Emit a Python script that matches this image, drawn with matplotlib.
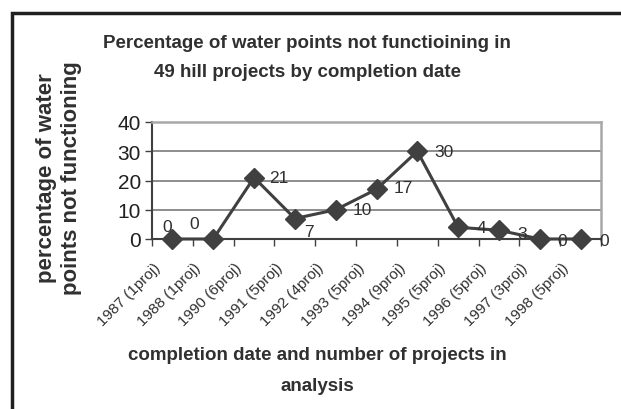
import matplotlib.pyplot as plt
import numpy as np
from matplotlib.patches import Rectangle

plt.rcParams['font.family'] = ['Liberation Sans', 'DejaVu Sans']

categories = ['1987 (1proj)', '1988 (1proj)', '1990 (6proj)', '1991 (5proj)',
              '1992 (4proj)', '1993 (5proj)', '1994 (9proj)', '1995 (5proj)',
              '1996 (5proj)', '1997 (3proj)', '1998 (5proj)']
pct_not_working = [0, 0, 21, 7, 10, 17, 30, 4, 3, 0, 0]

# label offsets in points (Excel had a couple of them nudged by hand)
label_offsets = [(-4, 9), (-14, 11), (18, 0), (10, -9), (19, 0), (19, 1),
                 (19, 0), (17, 0), (17, -2), (16, -1), (17, -1)]

dark = '#404040'

fig = plt.figure(figsize=(6.21, 4.10), dpi=100)
ax = fig.add_axes([152 / 621, 1 - 240 / 410, 449 / 621, 117 / 410])

x = np.arange(len(categories)) + 0.5
ax.plot(x, pct_not_working, color=dark, lw=2.2, marker='D', ms=10,
        mfc=dark, mec=dark, clip_on=False, zorder=3)

for xi, v, off in zip(x, pct_not_working, label_offsets):
    ax.annotate(str(v), (xi, v), xytext=off, textcoords='offset points',
                ha='center', va='center', fontsize=12.5, color='#303030')

ax.set_xlim(0, len(categories))
ax.set_ylim(0, 40)
ax.set_yticks(np.arange(0, 41, 10))
ax.tick_params(axis='y', labelsize=15, length=5, width=1, color=dark,
               labelcolor='#202020', pad=3)
ax.set_xticks(np.arange(len(categories) + 1))
ax.set_xticklabels([])
ax.tick_params(axis='x', which='major', length=5, width=1, color=dark)

# category labels, Excel style: slanted and sitting left of the centre
for xi, cat in zip(x, categories):
    ax.annotate(cat, (xi, 0), xycoords=('data', 'axes fraction'),
                xytext=(-14, -15), textcoords='offset points',
                rotation=45, ha='right', va='top', rotation_mode='anchor',
                fontsize=11, color='#303030', annotation_clip=False)

ax.grid(axis='y', color='#7a7a7a', lw=1.2)
ax.set_axisbelow(True)
for side in ['top', 'right']:
    ax.spines[side].set_color('#a8a8a8')
    ax.spines[side].set_linewidth(1.8)
for side in ['left', 'bottom']:
    ax.spines[side].set_color(dark)
    ax.spines[side].set_linewidth(1.5)

fig.text(307 / 621, 1 - 58 / 410,
         'Percentage of water points not functioining in\n'
         '49 hill projects by completion date',
         ha='center', va='center', fontsize=13.5, fontweight='bold',
         color='#303030', linespacing=1.9)
fig.text(59 / 621, 1 - 178 / 410,
         'percentage of water\npoints not functioning',
         ha='center', va='center', rotation=90, fontsize=16,
         fontweight='bold', color='#303030', linespacing=1.25)
fig.text(317 / 621, 1 - 371 / 410,
         'completion date and number of projects in\nanalysis',
         ha='center', va='center', fontsize=13.5, fontweight='bold',
         color='#303030', linespacing=2.05)

# outer chart frame, runs off the right and bottom edges
fig.patches.append(Rectangle((12 / 621, -0.1), 1.0, 1.1 - 14 / 410,
                             transform=fig.transFigure, fill=False,
                             ec='#202020', lw=2.5))

fig.savefig('out.png', dpi=100)
